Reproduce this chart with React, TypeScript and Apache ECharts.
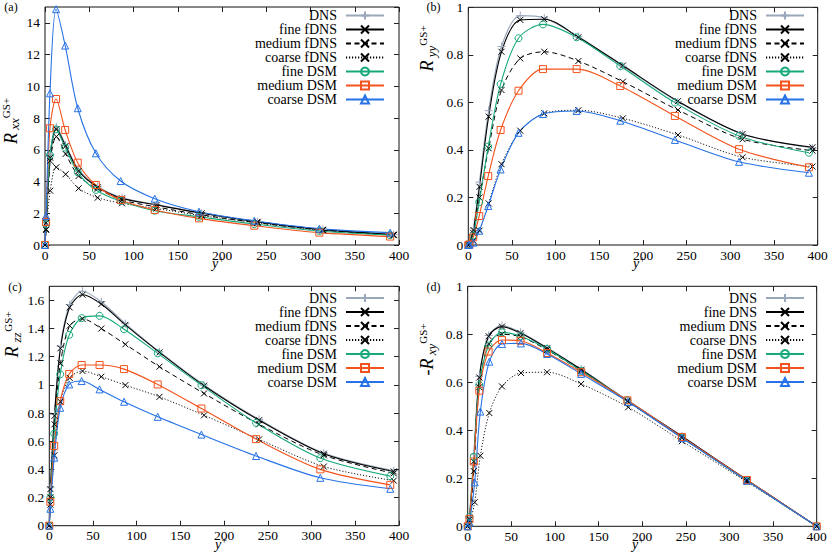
import React, { useEffect, useRef } from 'react';
import * as echarts from 'echarts';

// ---------- data ----------
const X_FDNS = [0, 1.3, 5.9, 12.8, 23.3, 38, 59.5, 87, 126, 177, 240, 314, 394];
const X_DSM = [0, 1.2, 5.6, 12.5, 22.8, 37, 57.5, 85.5, 124, 174, 236.5, 310, 390];
const X_XY = [0, 2, 7, 13.3, 24, 39.3, 60.5, 91, 130, 183, 245.5, 320, 400];
const X_XY_COARSE = [0, 2, 8, 14.5, 24.8, 39.3, 61, 91, 130, 184, 245.5, 320, 400];

const NAMES_F = ['DNS', 'fine fDNS', 'medium fDNS', 'coarse fDNS', 'fine DSM', 'medium DSM', 'coarse DSM'];
const NAMES_XY = ['DNS', 'fine DNS', 'medium DNS', 'coarse DNS', 'fine DSM', 'medium DSM', 'coarse DSM'];

const X_TICKS = { min: 0, max: 400, interval: 50 };

// (a) R_xx
const A_DNS = [0, 1.5, 5.7, 7.45, 6.3, 4.75, 3.68, 2.97, 2.55, 2.02, 1.48, 0.98, 0.67];
const A_FINE_F = [0, 1.4, 5.5, 7.3, 6.24, 4.67, 3.64, 2.94, 2.52, 2.0, 1.46, 0.97, 0.66];
const A_MED_F = [0, 1.0, 5.3, 6.83, 5.74, 4.35, 3.55, 2.84, 2.4, 1.9, 1.4, 0.93, 0.63];
const A_COARSE_F = [0, 0.95, 3.42, 4.9, 4.46, 3.57, 2.98, 2.63, 2.3, 1.85, 1.4, 0.93, 0.62];
const A_FINE_DSM = [0, 1.3, 5.67, 7.29, 6.14, 4.58, 3.47, 2.77, 2.16, 1.78, 1.32, 0.88, 0.62];
const A_MED_DSM = [0, 1.45, 7.36, 9.2, 7.25, 5.19, 3.78, 2.84, 2.21, 1.68, 1.22, 0.78, 0.53];
const A_COARSE_DSM = [0, 1.83, 9.56, 14.86, 12.57, 8.62, 5.78, 4.03, 2.92, 2.1, 1.53, 1.03, 0.78];

// (b) R_yy
const B_DNS = [0, 0.006, 0.068, 0.265, 0.565, 0.835, 0.965, 0.955, 0.877, 0.752, 0.603, 0.467, 0.408];
const B_FINE_F = [0, 0.005, 0.063, 0.245, 0.54, 0.813, 0.947, 0.95, 0.874, 0.755, 0.605, 0.467, 0.411];
const B_MED_F = [0, 0.004, 0.05, 0.2, 0.407, 0.652, 0.785, 0.813, 0.774, 0.687, 0.568, 0.445, 0.397];
const B_COARSE_F = [0, 0.002, 0.018, 0.06, 0.175, 0.34, 0.481, 0.554, 0.567, 0.533, 0.463, 0.369, 0.33];
const B_FINE_DSM = [0, 0.003, 0.04, 0.18, 0.414, 0.677, 0.87, 0.928, 0.874, 0.753, 0.599, 0.459, 0.388];
const B_MED_DSM = [0, 0.002, 0.032, 0.122, 0.29, 0.484, 0.649, 0.74, 0.74, 0.669, 0.543, 0.403, 0.327];
const B_COARSE_DSM = [0, 0.001, 0.01, 0.06, 0.164, 0.318, 0.472, 0.551, 0.564, 0.523, 0.442, 0.35, 0.304];

// (c) R_zz
const C_DNS = [0, 0.27, 0.79, 1.275, 1.57, 1.665, 1.59, 1.435, 1.235, 1.0, 0.755, 0.515, 0.39];
const C_FINE_F = [0, 0.26, 0.78, 1.26, 1.55, 1.64, 1.574, 1.426, 1.231, 0.994, 0.749, 0.511, 0.385];
const C_MED_F = [0, 0.2, 0.72, 1.153, 1.42, 1.469, 1.4, 1.288, 1.129, 0.939, 0.72, 0.5, 0.372];
const C_COARSE_F = [0, 0.15, 0.5, 0.88, 1.05, 1.098, 1.058, 0.998, 0.915, 0.784, 0.613, 0.42, 0.32];
const C_FINE_DSM = [0, 0.2, 0.654, 1.075, 1.355, 1.474, 1.49, 1.395, 1.224, 0.998, 0.73, 0.48, 0.352];
const C_MED_DSM = [0, 0.17, 0.566, 0.884, 1.077, 1.141, 1.141, 1.112, 1.003, 0.832, 0.615, 0.4, 0.29];
const C_COARSE_DSM = [0, 0.12, 0.483, 0.837, 1.003, 1.027, 0.968, 0.88, 0.773, 0.647, 0.495, 0.34, 0.262];

// (d) -R_xy
const D_DNS = [0, 0.035, 0.3, 0.625, 0.795, 0.836, 0.808, 0.744, 0.655, 0.525, 0.376, 0.194, 0];
const D_FINE = [0, 0.03, 0.27, 0.62, 0.792, 0.832, 0.805, 0.742, 0.653, 0.523, 0.375, 0.193, 0];
const D_MED = [0, 0.02, 0.23, 0.58, 0.76, 0.8, 0.79, 0.735, 0.648, 0.52, 0.37, 0.19, 0];
const D_COARSE = [0, 0.01, 0.1, 0.294, 0.472, 0.583, 0.639, 0.642, 0.593, 0.496, 0.355, 0.185, 0];
const D_FINE_DSM = [0, 0.04, 0.29, 0.589, 0.753, 0.808, 0.792, 0.739, 0.648, 0.525, 0.37, 0.19, 0];
const D_MED_DSM = [0, 0.03, 0.27, 0.565, 0.728, 0.776, 0.773, 0.722, 0.642, 0.525, 0.372, 0.193, 0];
const D_COARSE_DSM = [0, 0.015, 0.183, 0.478, 0.686, 0.76, 0.762, 0.718, 0.635, 0.518, 0.368, 0.19, 0];

// ---------- styles ----------
const FONT = "'Liberation Serif', 'Times New Roman', serif";
const CROSS = 'path://M0,0L10,10M10,0L0,10';
const PLUS = 'path://M5,0L5,10M0,5L10,5';

const STYLES = [
  { color: '#9aa8bc', symbol: PLUS, size: 8, dash: 'solid' as any, width: 1.2 },
  { color: '#000000', symbol: CROSS, size: 6, dash: 'solid' as any, width: 1.1 },
  { color: '#000000', symbol: CROSS, size: 6, dash: [5, 3.5] as any, width: 1 },
  { color: '#000000', symbol: CROSS, size: 6, dash: [1.2, 1.8] as any, width: 0.9 },
  { color: '#17a97c', symbol: 'circle', size: 7, dash: 'solid' as any, width: 1.1 },
  { color: '#f3531d', symbol: 'rect', size: 7, dash: 'solid' as any, width: 1.1 },
  { color: '#2672e6', symbol: 'triangle', size: 7, dash: 'solid' as any, width: 1.1 },
];

type Panel = {
  left: number; top: number; right: number; bottom: number;
  yMax: number; yInterval: number; hideMax: boolean;
  names: string[]; xs: number[][]; ys: number[][];
  legendRight: number; legendTop: number;
};

const PANELS: Panel[] = [
  {
    left: 45, top: 7, right: 431, bottom: 314, yMax: 15, yInterval: 2, hideMax: true,
    names: NAMES_F,
    xs: [X_FDNS, X_FDNS, X_FDNS, X_FDNS, X_DSM, X_DSM, X_DSM],
    ys: [A_DNS, A_FINE_F, A_MED_F, A_COARSE_F, A_FINE_DSM, A_MED_DSM, A_COARSE_DSM],
    legendRight: 445, legendTop: 8.5,
  },
  {
    left: 468.3, top: 7.3, right: 12.3, bottom: 314, yMax: 1, yInterval: 0.2, hideMax: false,
    names: NAMES_F,
    xs: [X_FDNS, X_FDNS, X_FDNS, X_FDNS, X_DSM, X_DSM, X_DSM],
    ys: [B_DNS, B_FINE_F, B_MED_F, B_COARSE_F, B_FINE_DSM, B_MED_DSM, B_COARSE_DSM],
    legendRight: 25, legendTop: 8.5,
  },
  {
    left: 49.3, top: 286.3, right: 431, bottom: 33.3, yMax: 1.7, yInterval: 0.2, hideMax: true,
    names: NAMES_F,
    xs: [X_FDNS, X_FDNS, X_FDNS, X_FDNS, X_DSM, X_DSM, X_DSM],
    ys: [C_DNS, C_FINE_F, C_MED_F, C_COARSE_F, C_FINE_DSM, C_MED_DSM, C_COARSE_DSM],
    legendRight: 445, legendTop: 291,
  },
  {
    left: 467.7, top: 286.3, right: 13.3, bottom: 32.7, yMax: 1, yInterval: 0.2, hideMax: false,
    names: NAMES_XY,
    xs: [X_XY, X_XY, X_XY, X_XY_COARSE, X_XY, X_XY, X_XY_COARSE],
    ys: [D_DNS, D_FINE, D_MED, D_COARSE, D_FINE_DSM, D_MED_DSM, D_COARSE_DSM],
    legendRight: 25, legendTop: 291,
  },
];

function txt(text: string, x: number, y: number, size: number, italic: boolean, rotate: boolean) {
  return {
    type: 'text',
    x,
    y,
    rotation: rotate ? Math.PI / 2 : 0,
    silent: true,
    style: {
      text,
      fontFamily: FONT,
      fontSize: size,
      fontStyle: italic ? 'italic' : 'normal',
      fill: '#000',
      align: 'center',
      verticalAlign: 'middle',
    },
  };
}

function yTitle(rx: number, ry: number, sub: string, neg: boolean) {
  return [
    txt(neg ? '-R' : 'R', rx, neg ? ry + 3 : ry, 18, true, true),
    txt(sub, rx + 4, ry - 14.5, 13, true, true),
    txt('GS+', rx - 4.5, ry - 30.5, 11, false, true),
  ];
}

function xTitle(cx: number, cy: number) {
  return [txt('y', cx, cy, 14, true, false), txt('+', cx + 6.2, cy - 4, 10, false, false)];
}

function buildOption() {
  const grid: any[] = [];
  const xAxis: any[] = [];
  const yAxis: any[] = [];
  const series: any[] = [];
  const legend: any[] = [];
  const tickStyle = { color: '#222', width: 1 };
  const labelStyle = { fontFamily: FONT, fontSize: 13.5, color: '#000' };

  PANELS.forEach((p, g) => {
    grid.push({
      left: p.left, top: p.top, right: p.right, bottom: p.bottom,
      show: true, borderColor: '#111', borderWidth: 1, backgroundColor: 'transparent',
      containLabel: false, outerBoundsMode: 'none',
    });
    const xBase = {
      gridIndex: g, type: 'value', ...X_TICKS,
      axisLine: { show: false, onZero: false },
      axisTick: { show: true, inside: true, length: 5, lineStyle: tickStyle },
      splitLine: { show: false },
    };
    xAxis.push({ ...xBase, position: 'bottom', axisLabel: { ...labelStyle, margin: 3 } });
    xAxis.push({ ...xBase, position: 'top', axisLabel: { show: false } });
    const yBase = {
      gridIndex: g, type: 'value', min: 0, max: p.yMax, interval: p.yInterval,
      axisLine: { show: false, onZero: false },
      axisTick: { show: true, inside: true, length: 5, lineStyle: tickStyle },
      splitLine: { show: false },
    };
    yAxis.push({ ...yBase, position: 'left', axisLabel: { ...labelStyle, margin: 5, showMaxLabel: !p.hideMax } });
    yAxis.push({ ...yBase, position: 'right', axisLabel: { show: false } });

    p.names.forEach((name, i) => {
      const s = STYLES[i];
      series.push({
        type: 'line',
        name,
        xAxisIndex: 2 * g,
        yAxisIndex: 2 * g,
        data: p.xs[i].map((x, k) => [x, p.ys[i][k]]),
        smooth: 0.3,
        symbol: s.symbol,
        symbolSize: s.size,
        showSymbol: true,
        clip: true,
        lineStyle: { color: s.color, width: s.width, type: s.dash },
        itemStyle: { color: 'transparent', borderColor: s.color, borderWidth: 1 },
        emphasis: { disabled: true },
        animation: false,
      });
    });

    legend.push({
      orient: 'vertical',
      align: 'right',
      right: p.legendRight,
      top: p.legendTop,
      itemWidth: 38,
      itemHeight: 10,
      itemGap: 0,
      padding: 0,
      selectedMode: false,
      textStyle: { fontFamily: FONT, fontSize: 14, color: '#000', padding: [0, 4, 0, 0] },
      data: p.names,
    });
  });

  const graphic: any[] = [
    txt('(a)', 11, 7, 12, false, false),
    txt('(b)', 433.5, 7, 12, false, false),
    txt('(c)', 15, 287, 12, false, false),
    txt('(d)', 433.5, 287, 12, false, false),
    ...yTitle(10.5, 138.5, 'xx', false),
    ...yTitle(427, 66, 'yy', false),
    ...yTitle(12, 352, 'zz', false),
    ...yTitle(427, 364, 'xy', true),
    ...xTitle(215, 263.5),
    ...xTitle(636, 263.5),
    ...xTitle(218, 544),
    ...xTitle(635, 544.5),
  ];

  return {
    animation: false,
    backgroundColor: '#fff',
    grid,
    xAxis,
    yAxis,
    series,
    legend,
    graphic,
  };
}

export default function App() {
  const ref = useRef<HTMLDivElement>(null);
  useEffect(() => {
    if (!ref.current) return;
    const chart = echarts.init(ref.current, null, { renderer: 'svg' });
    chart.setOption(buildOption() as any);
    return () => chart.dispose();
  }, []);
  return (
    <div
      ref={ref}
      style={{ position: 'absolute', left: 0, top: 0, width: 830, height: 559, background: '#fff' }}
    />
  );
}
